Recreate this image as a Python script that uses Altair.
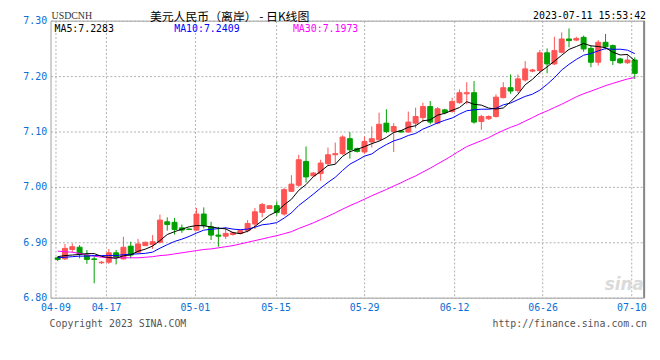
import altair as alt
import pandas as pd

# ---- data (USD/CNH daily candles) ----
candle_idx = list(range(80))
opens = [6.872, 6.870, 6.887, 6.891, 6.877, 6.870, 6.863, 6.864, 6.881, 6.870,
         6.893, 6.882, 6.894, 6.896, 6.900, 6.937, 6.936, 6.926, 6.924, 6.922,
         6.951, 6.928, 6.913, 6.911, 6.914, 6.916, 6.921, 6.933, 6.954, 6.961,
         6.966, 6.951, 6.992, 7.003, 7.046, 7.020, 7.024, 7.042, 7.058, 7.060,
         7.087, 7.069, 7.063, 7.081, 7.085, 7.115, 7.100, 7.101, 7.099, 7.115,
         7.125, 7.145, 7.115, 7.139, 7.136, 7.152, 7.168, 7.170, 7.118, 7.123,
         7.127, 7.161, 7.179, 7.174, 7.193, 7.209, 7.210, 7.242, 7.222, 7.243,
         7.267, 7.265, 7.270, 7.250, 7.225, 7.261, 7.255, 7.231, 7.224, 7.229]
closes = [6.869, 6.889, 6.892, 6.879, 6.869, 6.869, 6.864, 6.881, 6.873, 6.891,
          6.877, 6.897, 6.900, 6.901, 6.940, 6.932, 6.923, 6.922, 6.923, 6.951,
          6.930, 6.913, 6.911, 6.916, 6.917, 6.921, 6.934, 6.955, 6.968, 6.966,
          6.954, 6.995, 7.005, 7.049, 7.018, 7.025, 7.043, 7.058, 7.060, 7.090,
          7.067, 7.064, 7.082, 7.087, 7.113, 7.100, 7.109, 7.099, 7.117, 7.127,
          7.145, 7.117, 7.141, 7.134, 7.154, 7.170, 7.170, 7.117, 7.127, 7.127,
          7.162, 7.179, 7.173, 7.195, 7.213, 7.211, 7.242, 7.222, 7.246, 7.267,
          7.264, 7.268, 7.249, 7.225, 7.261, 7.253, 7.228, 7.224, 7.229, 7.205]
highs = [6.874, 6.897, 6.898, 6.895, 6.886, 6.875, 6.866, 6.888, 6.886, 6.910,
         6.901, 6.906, 6.901, 6.913, 6.950, 6.945, 6.944, 6.932, 6.925, 6.962,
         6.963, 6.937, 6.928, 6.927, 6.919, 6.923, 6.940, 6.962, 6.971, 6.967,
         6.974, 6.998, 7.021, 7.058, 7.073, 7.027, 7.049, 7.071, 7.080, 7.093,
         7.099, 7.071, 7.091, 7.109, 7.134, 7.140, 7.115, 7.102, 7.136, 7.143,
         7.152, 7.155, 7.144, 7.141, 7.161, 7.176, 7.189, 7.191, 7.130, 7.129,
         7.167, 7.189, 7.203, 7.203, 7.227, 7.213, 7.247, 7.250, 7.271, 7.279,
         7.286, 7.271, 7.273, 7.255, 7.265, 7.276, 7.257, 7.233, 7.240, 7.234]
lows = [6.866, 6.868, 6.882, 6.871, 6.861, 6.826, 6.861, 6.861, 6.860, 6.869,
        6.871, 6.880, 6.893, 6.888, 6.898, 6.921, 6.914, 6.917, 6.922, 6.921,
        6.925, 6.904, 6.892, 6.906, 6.912, 6.914, 6.918, 6.924, 6.945, 6.960,
        6.948, 6.948, 6.991, 7.000, 7.008, 7.018, 7.011, 7.039, 7.041, 7.058,
        7.051, 7.062, 7.060, 7.071, 7.084, 7.097, 7.063, 7.098, 7.098, 7.106,
        7.117, 7.113, 7.113, 7.131, 7.134, 7.150, 7.149, 7.114, 7.103, 7.121,
        7.125, 7.160, 7.168, 7.170, 7.190, 7.207, 7.204, 7.205, 7.220, 7.241,
        7.252, 7.263, 7.244, 7.216, 7.219, 7.248, 7.220, 7.222, 7.222, 7.195]
ma5 = [6.874, 6.876, 6.877, 6.878, 6.8796, 6.8796, 6.8746, 6.8724, 6.8712, 6.8756,
       6.8772, 6.8838, 6.8876, 6.8932, 6.9030, 6.9140, 6.9192, 6.9236, 6.9280, 6.9302,
       6.9298, 6.9278, 6.9256, 6.9242, 6.9174, 6.9156, 6.9198, 6.9286, 6.9390, 6.9488,
       6.9554, 6.9676, 6.9776, 6.9938, 7.0042, 7.0184, 7.0280, 7.0386, 7.0408, 7.0552,
       7.0636, 7.0678, 7.0726, 7.0780, 7.0826, 7.0892, 7.0982, 7.1016, 7.1076, 7.1104,
       7.1194, 7.1210, 7.1294, 7.1328, 7.1382, 7.1432, 7.1538, 7.1490, 7.1476, 7.1422,
       7.1406, 7.1424, 7.1536, 7.1672, 7.1844, 7.1942, 7.2068, 7.2166, 7.2268, 7.2376,
       7.2482, 7.2534, 7.2588, 7.2546, 7.2534, 7.2512, 7.2432, 7.2382, 7.2390, 7.2278]
ma10 = [6.872, 6.873, 6.874, 6.875, 6.875, 6.876, 6.876, 6.876, 6.876, 6.8776,
        6.8784, 6.8792, 6.8800, 6.8822, 6.8893, 6.8956, 6.9015, 6.9056, 6.9106, 6.9166,
        6.9219, 6.9235, 6.9246, 6.9261, 6.9238, 6.9227, 6.9238, 6.9271, 6.9316, 6.9331,
        6.9355, 6.9437, 6.9531, 6.9664, 6.9765, 6.9869, 6.9978, 7.0081, 7.0173, 7.0297,
        7.0410, 7.0479, 7.0556, 7.0594, 7.0689, 7.0764, 7.0830, 7.0871, 7.0928, 7.0965,
        7.1043, 7.1096, 7.1155, 7.1202, 7.1243, 7.1313, 7.1374, 7.1392, 7.1402, 7.1402,
        7.1419, 7.1481, 7.1513, 7.1574, 7.1633, 7.1674, 7.1746, 7.1851, 7.1970, 7.2110,
        7.2212, 7.2301, 7.2377, 7.2407, 7.2455, 7.2497, 7.2483, 7.2485, 7.2468, 7.2406]
ma30 = [6.884, 6.883, 6.882, 6.880, 6.877, 6.875, 6.873, 6.872, 6.872, 6.872,
        6.872, 6.872, 6.873, 6.874, 6.876, 6.877, 6.879, 6.881, 6.883, 6.885,
        6.887, 6.888, 6.890, 6.892, 6.894, 6.897, 6.900, 6.903, 6.906, 6.9091,
        6.9119, 6.9155, 6.9192, 6.9249, 6.9299, 6.9351, 6.9410, 6.9469, 6.9532, 6.9598,
        6.9661, 6.9717, 6.9778, 6.9840, 6.9897, 6.9953, 7.0015, 7.0074, 7.0139, 7.0198,
        7.0269, 7.0337, 7.0414, 7.0487, 7.0566, 7.0649, 7.0727, 7.0781, 7.0834, 7.0888,
        7.0957, 7.1019, 7.1075, 7.1123, 7.1188, 7.1250, 7.1317, 7.1371, 7.1433, 7.1492,
        7.1558, 7.1626, 7.1682, 7.1728, 7.1777, 7.1828, 7.1868, 7.1909, 7.1947, 7.1973]

x_tick_pos = [-0.3, 6.62, 18.78, 29.84, 41.96, 54.26, 66.38, 78.54]
x_tick_labels = ["04-09", "04-17", "05-01", "05-15", "05-29", "06-12", "06-26", "07-10"]
y_ticks = [6.80, 6.85, 6.90, 6.95, 7.00, 7.05, 7.10, 7.15, 7.20, 7.25, 7.30]

legend_ma5 = "MA5:7.2283"
legend_ma10 = "MA10:7.2409"
legend_ma30 = "MA30:7.1973"
title_text = "美元人民币（离岸） - 日K线图"
symbol_text = "USDCNH"
stamp_text = "2023-07-11 15:53:42"
copyright_text = "Copyright 2023 SINA.COM"
url_text = "http://finance.sina.com.cn"

df = pd.DataFrame({"k": candle_idx, "open": opens, "high": highs, "low": lows,
                   "close": closes, "ma5": ma5, "ma10": ma10, "ma30": ma30})

RED = "#FF5454"
GREEN = "#00A000"
BLUE_LBL = "#0A6FD6"
MONO = "DejaVu Sans Mono"
GRID = "#B0B0B0"

label_expr = ""
for p, lab in zip(x_tick_pos, x_tick_labels):
    label_expr += f"abs(datum.value - ({p})) < 0.01 ? '{lab}' : "
label_expr += "''"

xscale = alt.Scale(domain=[-0.3, 79.6], nice=False, zero=False)
yscale = alt.Scale(domain=[6.80, 7.30], nice=False, zero=False)

xaxis = alt.Axis(values=x_tick_pos, labelExpr=label_expr, grid=True, gridColor=GRID,
                 gridDash=[2, 2], gridWidth=1, ticks=False, domain=False,
                 labelColor=BLUE_LBL, labelFont=MONO, labelFontSize=10, labelPadding=5,
                 labelFlush=False, labelOverlap=False, title=None)
yaxis = alt.Axis(values=y_ticks, format=".2f", grid=True, gridColor=GRID, gridDash=[2, 2],
                 gridWidth=1, ticks=False, domain=False, labelColor=BLUE_LBL,
                 labelFont=MONO, labelFontSize=10, labelPadding=4, labelFlush=False,
                 labelOverlap=False, title=None)

cond = alt.condition("datum.close >= datum.open", alt.value(RED), alt.value(GREEN))

base = alt.Chart(df)
wick = base.mark_rule(strokeWidth=1).encode(
    x=alt.X("k:Q", scale=xscale, axis=xaxis),
    y=alt.Y("low:Q", scale=yscale, axis=yaxis),
    y2="high:Q",
    color=cond,
)
body = base.mark_bar(size=5, strokeWidth=1).encode(
    x=alt.X("k:Q", title=None),
    y=alt.Y("open:Q", title=None),
    y2="close:Q",
    fill=cond,
    stroke=cond,
)
line30 = base.mark_line(color="#FF00FF", strokeWidth=1).encode(
    x=alt.X("k:Q", title=None), y=alt.Y("ma30:Q", title=None))
line10 = base.mark_line(color="#0000FF", strokeWidth=1).encode(
    x=alt.X("k:Q", title=None), y=alt.Y("ma10:Q", title=None))
line5 = base.mark_line(color="#000000", strokeWidth=1).encode(
    x=alt.X("k:Q", title=None), y=alt.Y("ma5:Q", title=None))


def label(text, x, y, color="#000000", size=10, font=MONO, align="left",
          weight="normal", style="normal"):
    return alt.Chart(alt.Data(values=[{}])).mark_text(
        text=text, align=align, baseline="middle", font=font, fontSize=size,
        color=color, fontWeight=weight, fontStyle=style
    ).encode(x=alt.value(x), y=alt.value(y))


texts = [
    label(symbol_text, 1, -5, color="#333333", size=10, font="Liberation Serif"),
    label(title_text, 181, -4, color="#000000", size=12, font="Noto Sans CJK SC",
          align="center"),
    label(stamp_text, 602, -5, color="#000000", align="right"),
    label(legend_ma5, 4, 8, color="#000000"),
    label(legend_ma10, 125, 8, color="#0000FF"),
    label(legend_ma30, 245, 8, color="#FF00FF"),
    label(copyright_text, -1, 307, color="#555555"),
    label(url_text, 603, 307, color="#555555", align="right"),
    label("sina", 580, 267, color="#DADADA", size=17, font="DejaVu Sans",
          align="center", weight="bold", style="italic"),
]
right_edge = alt.Chart(alt.Data(values=[{}])).mark_rule(color="#888888", strokeWidth=2).encode(
    x=alt.value(600), y=alt.value(0), y2=alt.value(280))

chart = alt.layer(wick, body, line30, line10, line5, right_edge, *texts).properties(
    width=600, height=280,
    padding={"left": 43, "top": 11, "right": 8, "bottom": 45},
    autosize=alt.AutoSizeParams(type="none"),
).configure_view(stroke="#A0A0A0", strokeWidth=1)

chart.save("out.html", embed_options={"renderer": "svg", "actions": False})
